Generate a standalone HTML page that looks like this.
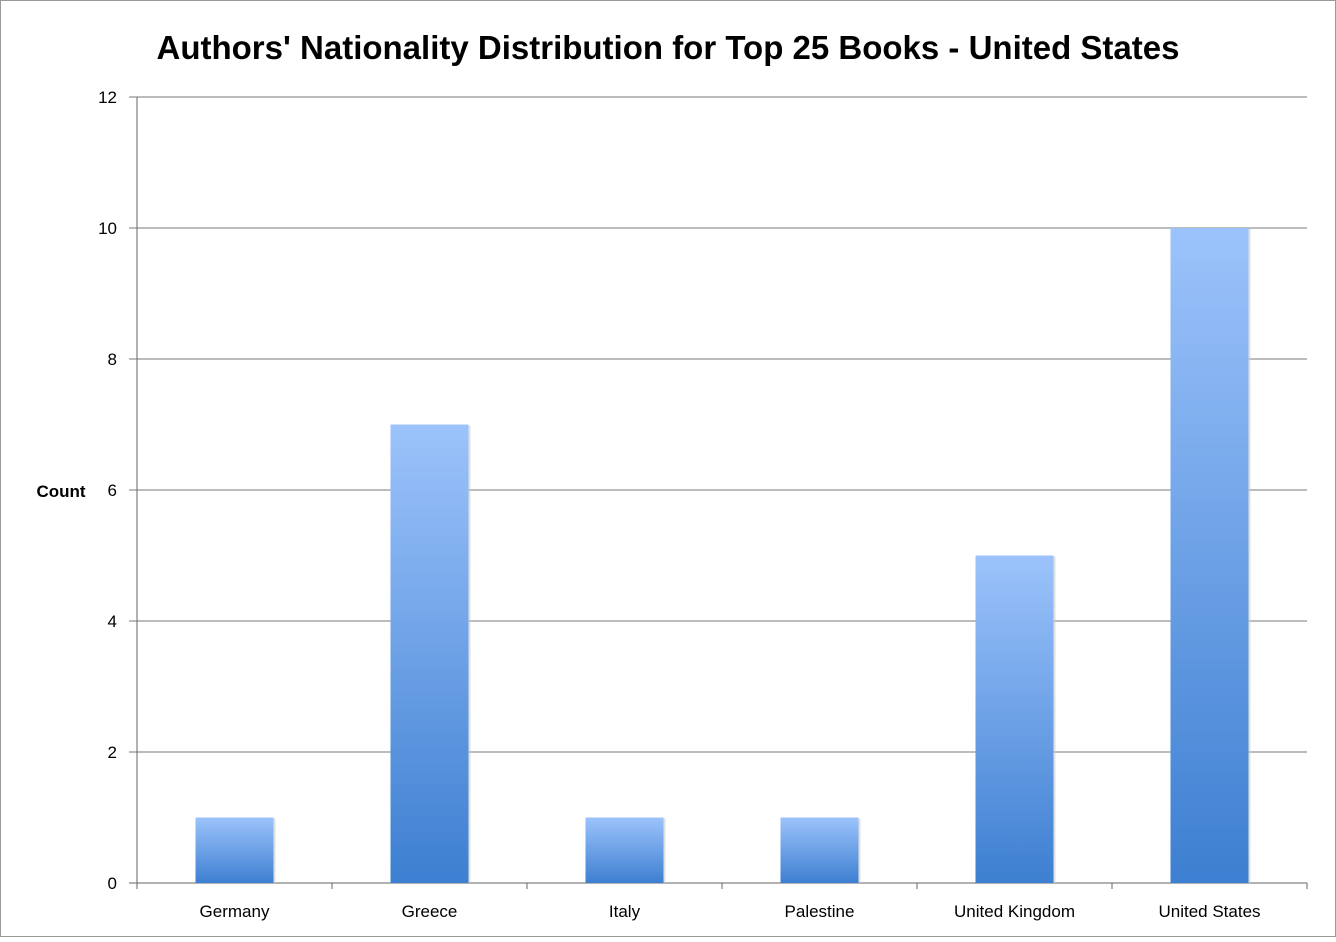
<!DOCTYPE html>
<html><head><meta charset="utf-8"><style>
body{margin:0;background:#fff;}
svg text{font-family:"Liberation Sans",sans-serif;}
</style></head><body>
<svg id="chart" width="1336" height="937">
<defs><linearGradient id="bg" x1="0" y1="0" x2="0" y2="1"><stop offset="0" stop-color="#9cc3fb"/><stop offset="1" stop-color="#3d7fd1"/></linearGradient></defs>
<rect x="0.5" y="0.5" width="1335" height="936" fill="#fff" stroke="#999"/>
<text x="668" y="59" text-anchor="middle" font-size="33" font-weight="bold">Authors' Nationality Distribution for Top 25 Books - United States</text>
<text x="61" y="497" text-anchor="middle" font-size="17" font-weight="bold">Count</text>
<g id="grid"></g><g id="bars"></g><g id="axes"></g>
</svg>
<script>
const categories=["Germany","Greece","Italy","Palestine","United Kingdom","United States"];
const counts=[1,7,1,1,5,10];
const yTicks=[0,2,4,6,8,10,12];
const X0=137,X1=1307,Y0=883,Y1=97,YMAX=12;
const ns="http://www.w3.org/2000/svg";
function y(v){return Y0-(v/YMAX)*(Y0-Y1);}
const bw=(X1-X0)/categories.length;
function xc(i){return X0+bw*(i+0.5);}
function mk(t,a,p){const e=document.createElementNS(ns,t);for(const k in a)e.setAttribute(k,a[k]);p.appendChild(e);return e;}
const grid=document.getElementById('grid'),bars=document.getElementById('bars'),axes=document.getElementById('axes');
yTicks.forEach(v=>{
 const l=mk('line',{x1:X0-8,x2:X1,y1:y(v),y2:y(v),stroke:v===0?'#666':'#7a7a7a','stroke-width':1},grid);
 
 
 const t=mk('text',{x:117,y:y(v)+6,'text-anchor':'end','font-size':17},grid);
 t.textContent=v;
 
 
});
mk('line',{x1:X0,x2:X0,y1:Y1,y2:Y0,stroke:'#666'},axes);
for(let i=0;i<=categories.length;i++){mk('line',{x1:X0+bw*i,x2:X0+bw*i,y1:Y0,y2:Y0+6,stroke:'#666'},axes);}
categories.forEach((c,i)=>{
 const w=78;
 mk('rect',{x:xc(i)-w/2+2,y:y(counts[i])+1,width:w,height:Y0-y(counts[i])-1,fill:'#ccc',opacity:0.6},bars);
 const r=mk('rect',{x:xc(i)-w/2,y:y(counts[i]),width:w,height:Y0-y(counts[i]),fill:'url(#bg)'},bars);
 
 
 const t=mk('text',{x:xc(i),y:917,'text-anchor':'middle','font-size':17},axes);
 t.textContent=c;
 
 
});
</script>
</body></html>
